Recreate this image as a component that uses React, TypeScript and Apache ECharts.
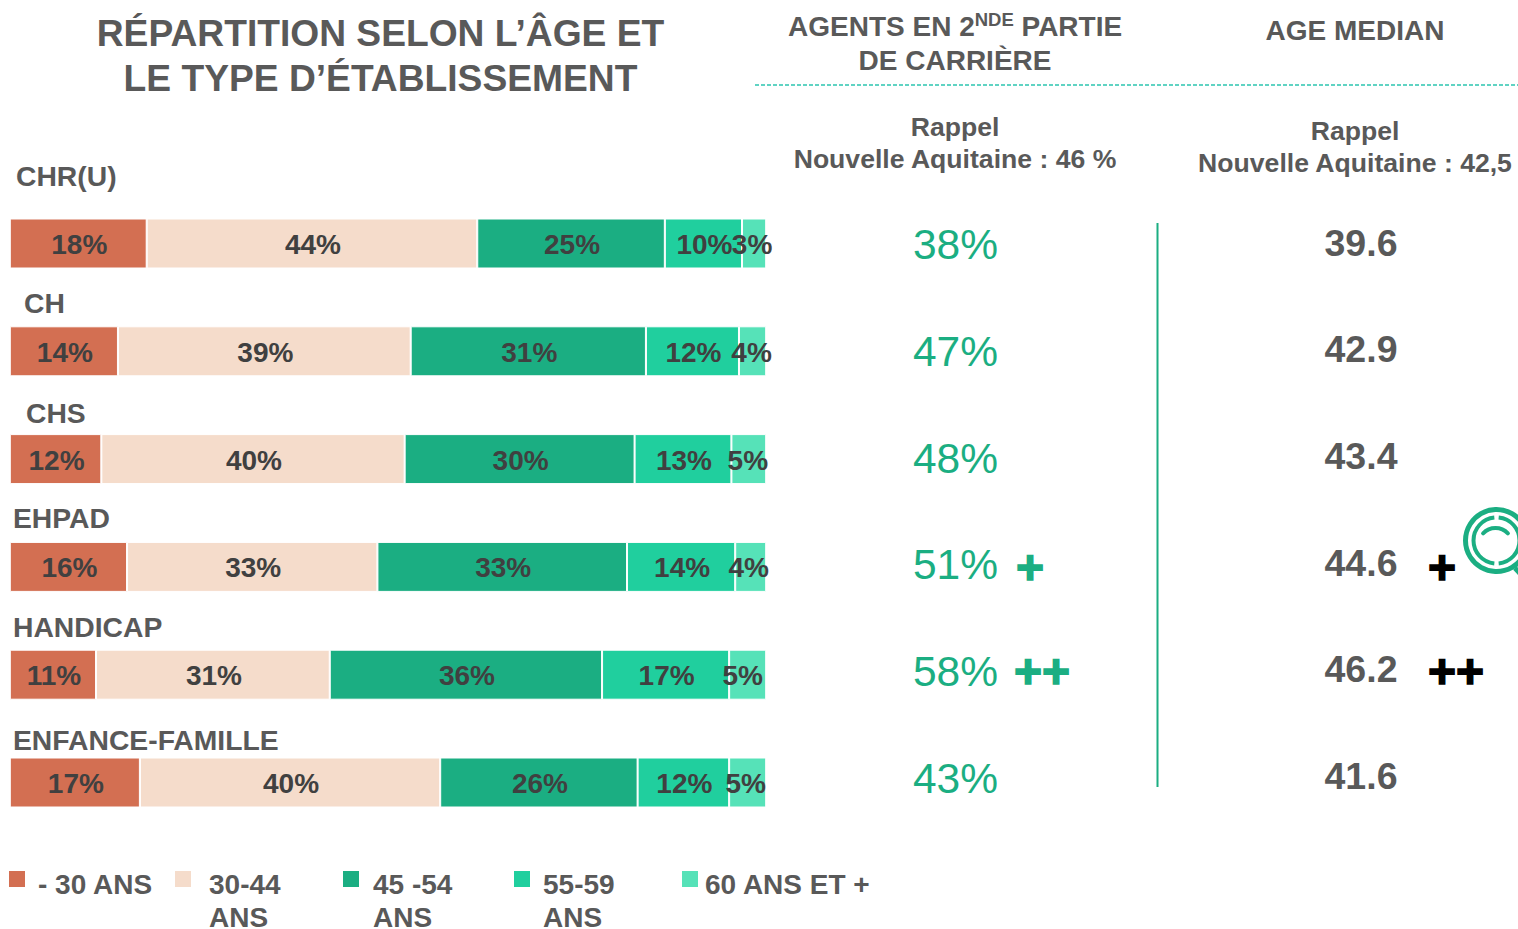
import React, { useEffect, useRef } from "react";
import * as echarts from "echarts";

const categories = ["CHR(U)", "CH", "CHS", "EHPAD", "HANDICAP", "ENFANCE-FAMILLE"];
const seriesNames = ["- 30 ANS", "30-44\nANS", "45 -54\nANS", "55-59\nANS", "60 ANS ET +"];
const under30 = [18.1, 14.3, 12.1, 15.5, 11.4, 17.2];
const from30to44 = [43.7, 38.7, 40.1, 33.1, 30.9, 39.7];
const from45to54 = [24.8, 31.1, 30.4, 33.0, 36.0, 26.1];
const from55to59 = [10.2, 12.3, 12.8, 14.3, 16.8, 12.1];
const over60 = [3.2, 3.6, 4.6, 4.1, 4.9, 4.9];
const seriesColors = ["#D36F52", "#F5DCCB", "#1BAE82", "#20CF9E", "#56E2B8"];
const secondPart = ["38%", "47%", "48%", "51%", "58%", "43%"];
const secondMarks = ["", "", "", "+", "++", ""];
const medianAge = ["39.6", "42.9", "43.4", "44.6", "46.2", "41.6"];
const medianMarks = ["", "", "", "+", "++", ""];

const labelX = [16, 24, 26, 13, 13, 13];
const labelY = [176, 303, 413, 518, 627, 740];
const secondY = [244, 351, 458, 564, 671, 778];
const secondMarkX = [0, 0, 0, 1016, 1014, 0];
const markY = [0, 0, 0, 567, 671, 0];
const medianY = [243, 349, 456, 563, 669, 776];
const legendX = [9, 175, 343, 514, 682];
const legendPad = [8, 13, 9, 8, 2];
const legendSecondX = [0, 209, 373, 543, 0];
const over60LabelShift = [-2, -1, -1, -2, -5, -2];

const FONT = '"Liberation Sans", Arial, sans-serif';
const GREY = "#595959";
const DARK = "#404040";
const GREEN = "#1BAE82";

function txt(text: string, x: number, y: number, size: number, fill: string, weight: any = "bold", align: any = "center", extra: any = {}) {
  return {
    type: "text",
    x,
    y,
    silent: true,
    style: { text, fill, fontSize: size, fontWeight: weight, fontFamily: FONT, align, verticalAlign: "middle", ...extra },
  };
}

export default function App() {
  const ref = useRef<HTMLDivElement>(null);
  useEffect(() => {
    document.body.style.margin = "0";
    const chart = echarts.init(ref.current!, null, { renderer: "svg" });
    const values = [under30, from30to44, from45to54, from55to59, over60];
    const graphic: any[] = [
      txt("RÉPARTITION SELON L’ÂGE ET", 380.5, 32.5, 37.2, GREY),
      txt("LE TYPE D’ÉTABLISSEMENT", 380.5, 77.5, 37.2, GREY),
      {
        type: "text",
        x: 788,
        y: 26,
        silent: true,
        style: {
          text: "{a|AGENTS EN 2}{s|NDE}{a| PARTIE}",
          fill: GREY,
          fontFamily: FONT,
          fontWeight: "bold",
          align: "left",
          verticalAlign: "middle",
          rich: {
            a: { fontSize: 28, fontWeight: "bold", fontFamily: FONT, fill: GREY, verticalAlign: "middle", lineHeight: 32 },
            s: { fontSize: 18.5, fontWeight: "bold", fontFamily: FONT, fill: GREY, verticalAlign: "top", lineHeight: 32 },
          },
        },
      },
      txt("DE CARRIÈRE", 955, 60, 28, GREY),
      txt("AGE MEDIAN", 1355, 30, 28, GREY),
      { type: "line", silent: true, shape: { x1: 755, y1: 85, x2: 1518, y2: 85 }, style: { stroke: "#2CC5B0", lineWidth: 1.5, lineDash: [4, 2] } },
      txt("Rappel", 955, 127, 26.6, GREY),
      txt("Nouvelle Aquitaine : 46 %", 955, 159, 26.6, GREY),
      txt("Rappel", 1355, 131, 26.6, GREY),
      txt("Nouvelle Aquitaine : 42,5", 1355, 163, 26.6, GREY),
      { type: "line", silent: true, shape: { x1: 1157.5, y1: 223, x2: 1157.5, y2: 787 }, style: { stroke: GREEN, lineWidth: 2 } },
      { type: "circle", silent: true, shape: { cx: 1496.5, cy: 540.5, r: 31 }, style: { fill: "none", stroke: GREEN, lineWidth: 5 } },
      { type: "arc", silent: true, shape: { cx: 1496.5, cy: 540.5, r: 23, startAngle: Math.PI * 0.53, endAngle: Math.PI * 1.47 }, style: { fill: "none", stroke: GREEN, lineWidth: 4 } },
      { type: "arc", silent: true, shape: { cx: 1496.5, cy: 540.5, r: 23, startAngle: -Math.PI * 0.47, endAngle: Math.PI * 0.47 }, style: { fill: "none", stroke: GREEN, lineWidth: 4 } },
      { type: "arc", silent: true, shape: { cx: 1495.5, cy: 545, r: 17, startAngle: -Math.PI * 0.76, endAngle: -Math.PI * 0.24 }, style: { fill: "none", stroke: GREEN, lineWidth: 4, lineCap: "round" } },
      { type: "line", silent: true, shape: { x1: 1515, y1: 568, x2: 1528, y2: 582 }, style: { stroke: GREEN, lineWidth: 5 } },
    ];
    categories.forEach((c, i) => {
      graphic.push(txt(c, labelX[i], labelY[i], 28.3, GREY, "bold", "left"));
      graphic.push(txt(secondPart[i], 955.5, secondY[i], 42.5, GREEN, "normal"));
      graphic.push(txt(medianAge[i], 1361, medianY[i], 37.5, GREY));
      if (secondMarks[i]) {
        graphic.push(txt(secondMarks[i], secondMarkX[i], markY[i], 48, GREEN, "bold", "left", { stroke: GREEN, lineWidth: 1.5 }));
        graphic.push(txt(medianMarks[i], 1428, markY[i], 48, "#000", "bold", "left", { stroke: "#000", lineWidth: 1.5 }));
      }
    });
    seriesNames.forEach((n, i) => {
      const second = n.split("\n")[1];
      if (second) graphic.push(txt(second, legendSecondX[i], 917, 28, GREY, "bold", "left"));
    });
    chart.setOption({
      animation: false,
      backgroundColor: "#fff",
      textStyle: { fontFamily: FONT },
      grid: { left: 9.8, top: 189.6, width: 756.4, height: 646.8 },
      xAxis: { type: "value", min: 0, max: 100, show: false },
      yAxis: { type: "category", data: categories, inverse: true, show: false },
      legend: seriesNames.map((n, i) => ({
        data: [n],
        left: legendX[i],
        top: 870,
        padding: 0,
        itemWidth: 16,
        itemHeight: 16,
        selectedMode: false,
        icon: "rect",
        itemStyle: { borderWidth: 0 },
        formatter: (name: string) => `{a|${name.split("\n")[0]}}`,
        textStyle: {
          rich: {
            a: {
              fontSize: 28,
              fontWeight: "bold",
              fontFamily: FONT,
              color: GREY,
              lineHeight: 38,
              verticalAlign: "bottom",
              padding: [0, 0, 0, legendPad[i]],
            },
          },
        },
      })),
      series: seriesNames.map((n, i) => ({
        type: "bar",
        name: n,
        stack: "total",
        data: i === 4 ? values[i].map((v, k) => ({ value: v, label: { offset: [over60LabelShift[k], 1] } })) : values[i],
        barWidth: 50,
        itemStyle: { color: seriesColors[i], borderColor: "#fff", borderWidth: 1 },
        label: {
          show: true,
          position: "inside",
          offset: [1, 1],
          color: DARK,
          fontSize: 28,
          fontWeight: "bold",
          fontFamily: FONT,
          formatter: (p: any) => `${Math.round(p.value)}%`,
        },
      })),
      graphic,
    });
    return () => chart.dispose();
  }, []);
  return <div ref={ref} style={{ position: "absolute", left: 0, top: 0, width: 1518, height: 929, overflow: "hidden" }} />;
}
